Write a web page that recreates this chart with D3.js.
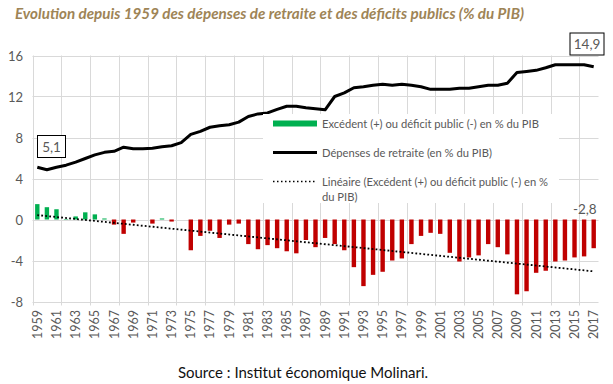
<!DOCTYPE html>
<html>
  <head>
    <meta charset="utf-8">
    <title>Retraites et déficits</title>
    <script src="https://d3js.org/d3.v7.min.js"></script>
<style type="text/css">
body{
  margin:0;
  background-color:#fff;
  font-family: 'Lato', sans-serif;
}
</style>
  </head>
  <body>
<svg width="613" height="384"></svg>
<script>
// donnees
var years = d3.range(1959, 2018);
var retraite = [5.1, 4.85, 5.1, 5.3, 5.6, 5.95, 6.3, 6.55, 6.65, 7.05,
  6.9, 6.9, 6.95, 7.1, 7.2, 7.5, 8.3, 8.6, 9.0, 9.15,
  9.25, 9.5, 10.05, 10.3, 10.4, 10.75, 11.05, 11.05, 10.9, 10.8,
  10.7, 12.0, 12.35, 12.85, 12.95, 13.1, 13.2, 13.1, 13.2, 13.1,
  12.95, 12.7, 12.7, 12.7, 12.8, 12.8, 12.95, 13.1, 13.1, 13.3,
  14.35, 14.45, 14.55, 14.8, 15.1, 15.1, 15.1, 15.1, 14.9];
var solde = [1.5, 1.2, 1.0, 0.05, 0.3, 0.7, 0.5, 0.1, -0.5, -1.4,
  -0.3, 0, -0.4, 0.1, -0.2, 0, -3.0, -1.6, -1.1, -1.8,
  -0.5, -0.4, -2.4, -2.9, -2.5, -2.8, -3.1, -3.3, -2.0, -2.7,
  -1.8, -2.4, -3.0, -4.65, -6.5, -5.4, -5.1, -4.0, -3.8, -2.4,
  -1.6, -1.3, -1.4, -3.25, -4.1, -3.7, -3.5, -2.4, -2.7, -3.4,
  -7.3, -7.0, -5.2, -5.0, -4.1, -4.0, -3.7, -3.6, -2.8];
var yTicks = [-8, -4, 0, 4, 8, 12, 16];
var legendLabels = ["Excédent (+) ou déficit public (-) en % du PIB",
  "Dépenses de retraite (en % du PIB)",
  "Linéaire (Excédent (+) ou déficit public (-) en %", "du PIB)"];

var svg = d3.select("svg");
var grid = "#d9d9d9", grey = "#595959";

var x = d3.scaleBand().domain(years).range([32.5, 598.5]).padding(0);
var step = x.step();
var xc = function(yr) { return x(yr) + step / 2; };
var y = d3.scaleLinear().domain([-8, 16]).range([301.5, 55.5]);

// titre
svg.append("text")
  .attr("x", 15).attr("y", 19)
  .style("font-size", "15.2px").style("font-weight", "bold").style("font-style", "italic")
  .style("fill", "#9e8456")
  .text("Evolution depuis 1959 des dépenses de retraite et des déficits publics (% du PIB)");

// grille
svg.selectAll(".hg").data(yTicks).enter().append("line")
  .attr("x1", 32.5).attr("x2", 598.5)
  .attr("y1", function(d) { return Math.round(y(d)) + 0.5; })
  .attr("y2", function(d) { return Math.round(y(d)) + 0.5; })
  .style("stroke", grid);
var vIdx = d3.range(0, years.length, 3);
svg.selectAll(".vg").data(vIdx).enter().append("line")
  .attr("x1", function(i) { return Math.round(x(years[i])) + 0.5; })
  .attr("x2", function(i) { return Math.round(x(years[i])) + 0.5; })
  .attr("y1", y(16)).attr("y2", y(-8) + 4)
  .style("stroke", grid);

// axe y
svg.selectAll(".yl").data(yTicks).enter().append("text")
  .attr("x", 23).attr("y", function(d) { return y(d) + 5; })
  .attr("text-anchor", "end")
  .style("font-size", "13px").style("fill", grey)
  .text(function(d) { return d; });

// axe x
svg.selectAll(".xl").data(years.filter(function(d) { return (d - 1959) % 2 == 0; }))
  .enter().append("text")
  .attr("transform", function(d) { return "translate(" + (xc(d) + 4.5) + ",310) rotate(-90)"; })
  .attr("text-anchor", "end")
  .style("font-size", "12.5px").style("fill", grey)
  .text(function(d) { return d; });

// barres
var bw = 4.4;
svg.selectAll(".bar").data(years).enter().append("rect")
  .attr("x", function(d) { return xc(d) - bw / 2; })
  .attr("width", bw)
  .attr("y", function(d, i) { return y(Math.max(0, solde[i])); })
  .attr("height", function(d, i) { return Math.abs(y(solde[i]) - y(0)); })
  .style("fill", function(d, i) { return solde[i] >= 0 ? "#00b050" : "#c00000"; });

// tendance lineaire (moindres carres)
var n = solde.length;
var mx = d3.mean(d3.range(n)), my = d3.mean(solde);
var b = d3.sum(d3.range(n), function(i) { return (i - mx) * (solde[i] - my); }) /
        d3.sum(d3.range(n), function(i) { return (i - mx) * (i - mx); });
var a = my - b * mx;
svg.append("line")
  .attr("x1", xc(years[0])).attr("y1", y(a))
  .attr("x2", xc(years[n - 1])).attr("y2", y(a + b * (n - 1)))
  .style("stroke", "#000").style("stroke-width", 1.8)
  .style("stroke-dasharray", "1.8,2.2");

// courbe retraite
var line = d3.line()
  .x(function(d, i) { return xc(years[i]); })
  .y(function(d) { return y(d); });
svg.append("path").datum(retraite)
  .attr("d", line)
  .style("fill", "none").style("stroke", "#000")
  .style("stroke-width", 3).style("stroke-linejoin", "round");

// legende
var lg = svg.append("g");
lg.append("rect").attr("x", 263).attr("y", 114).attr("width", 296).attr("height", 89).style("fill", "#fff");
lg.append("rect").attr("x", 273).attr("y", 120.5).attr("width", 44).attr("height", 6).style("fill", "#00b050");
lg.append("line").attr("x1", 273).attr("x2", 317).attr("y1", 152.5).attr("y2", 152.5)
  .style("stroke", "#000").style("stroke-width", 3);
lg.append("line").attr("x1", 273).attr("x2", 317).attr("y1", 181.5).attr("y2", 181.5)
  .style("stroke", "#000").style("stroke-width", 1.5).style("stroke-dasharray", "1.5,2.5");
var ly = [128, 157, 186, 201];
lg.selectAll(".lt").data(legendLabels).enter().append("text")
  .attr("x", 322).attr("y", function(d, i) { return ly[i]; })
  .style("font-size", "11.2px").style("fill", grey)
  .text(function(d) { return d; });

// etiquettes
function boxLabel(cx, cy, w, h, txt) {
  svg.append("rect").attr("x", cx - w / 2).attr("y", cy - h / 2).attr("width", w).attr("height", h)
    .style("fill", "#fff").style("stroke", "#000").style("stroke-width", 1);
  svg.append("text").attr("x", cx).attr("y", cy + 5).attr("text-anchor", "middle")
    .style("font-size", "13.5px").style("fill", grey).text(txt);
}
boxLabel(51.5, 146.5, 28, 22, String(retraite[0]).replace(".", ","));
boxLabel(587, 44, 34, 22, String(retraite[n - 1]).replace(".", ","));
svg.append("text").attr("x", xc(years[n - 1]) + 3).attr("y", y(0) - 6).attr("text-anchor", "end")
  .style("font-size", "13.5px").style("fill", grey)
  .text(String(solde[n - 1]).replace(".", ","));

// source
svg.append("text").attr("x", 303).attr("y", 378).attr("text-anchor", "middle")
  .style("font-size", "15px").style("fill", "#111")
  .text("Source : Institut économique Molinari.");
</script>
  </body>
</html>
